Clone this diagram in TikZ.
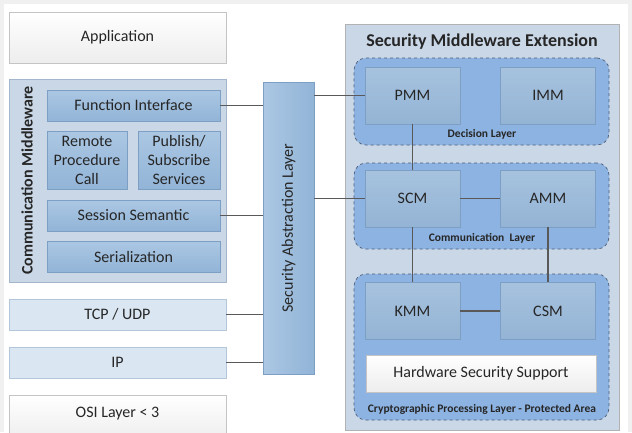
\documentclass[tikz,border=0pt]{standalone}
\usepackage{fontspec}
\setmainfont{Carlito}
\usepackage{tikz}
\usetikzlibrary{positioning}

\definecolor{txtgray}{HTML}{262626}
\definecolor{linegray}{HTML}{595959}
\definecolor{paleblue}{HTML}{C9D7E7}
\definecolor{paleedge}{HTML}{A3B6CC}
\definecolor{midtop}{HTML}{ABC7E3}
\definecolor{midbot}{HTML}{92B4D7}
\definecolor{midedge}{HTML}{7E9FC4}
\definecolor{layerblue}{HTML}{8DB3E2}
\definecolor{layeredge}{HTML}{4F6077}
\definecolor{modtop}{HTML}{A6C2DE}
\definecolor{modbot}{HTML}{94B4D5}
\definecolor{lightrow}{HTML}{DAE6F2}
\definecolor{lightedge}{HTML}{B4C6DA}
\definecolor{whiteedge}{HTML}{C4C4C4}

\begin{document}
\begin{tikzpicture}[x=1pt,y=-1pt,
font=\fontsize{16}{19}\selectfont, text=txtgray,
whitebox/.style={rectangle, draw=whiteedge, top color=white, bottom color=black!7, line width=0.8pt, inner sep=0pt},
rowbox/.style={rectangle, draw=lightedge, fill=lightrow, line width=0.8pt, inner sep=0pt, minimum width=217pt, minimum height=31pt},
groupbox/.style={rectangle, draw=paleedge, fill=paleblue, line width=0.8pt, inner sep=0pt},
innerbox/.style={rectangle, draw=midedge, top color=midtop, bottom color=midbot, line width=0.6pt, inner sep=0pt, align=center},
layerbox/.style={rectangle, rounded corners=12pt, draw=layeredge, dashed, fill=layerblue, line width=0.7pt, inner sep=0pt, minimum width=255pt},
modulebox/.style={rectangle, draw=midedge, top color=modtop, bottom color=modbot, line width=0.6pt, inner sep=0pt, minimum width=95pt, minimum height=57pt},
layerlabel/.style={font=\fontsize{11.5}{13}\selectfont\bfseries},
wire/.style={draw=linegray, line width=1.1pt},
]
\useasboundingbox (0,0) rectangle (632,432);
\fill[black!6] (0,0) rectangle (632,432);
\fill[white] (4,4) rectangle (628,432);

%Nodes
\node[whitebox, minimum width=217pt, minimum height=51pt] (app) at (117.5,37.5) {Application};

\node[groupbox, minimum width=217pt, minimum height=203pt] (cm) at (117.5,180.5) {};
\node[rotate=90, font=\fontsize{16}{19}\selectfont\bfseries] (cmlabel) at (27,180.5) {Communication Middleware};
\node[innerbox, minimum width=173pt, minimum height=31pt] (fi) at (133.5,105.5) {Function Interface};
\node[innerbox, minimum width=80pt, minimum height=58pt] (rpc) at (87,160) {Remote\\Procedure\\Call};
\node[innerbox, minimum width=82pt, minimum height=58pt] (pss) at (179,160) {Publish/\\Subscribe\\Services};
\node[innerbox, minimum width=173pt, minimum height=31pt] (ss) at (133.5,215.5) {Session Semantic};
\node[innerbox, minimum width=173pt, minimum height=31pt] (ser) at (133.5,256.5) {Serialization};

\node[rowbox] (tcp) at (117.5,314.5) {TCP / UDP};
\node[rowbox] (ip) at (117.5,362.5) {IP};
\node[whitebox, minimum width=217pt, minimum height=46pt] (osi) at (117.5,418) {};
\node (osilabel) at (117.5,414) {OSI Layer < 3};

\node[rectangle, draw=midedge, left color=midtop, right color=midbot, line width=0.8pt, minimum width=51pt, minimum height=292pt] (sal) at (288.5,228) {};
\node[rotate=90] (sallabel) at (sal.center) {Security Abstraction Layer};

\node[groupbox, draw=black!30, minimum width=274pt, minimum height=406pt] (sme) at (482,227) {};
\node[font=\fontsize{18}{21}\selectfont\bfseries] (smelabel) at (482,42) {Security Middleware Extension};

\node[layerbox, minimum height=87pt] (dec) at (481.5,101.5) {};
\node[layerbox, minimum height=86pt] (com) at (481.5,206) {};
\node[layerbox, minimum height=146pt] (cry) at (481.5,347) {};

\node[modulebox] (pmm) at (412.5,95.5) {PMM};
\node[modulebox] (imm) at (548,95.5) {IMM};
\node[modulebox] (scm) at (412.5,198.5) {SCM};
\node[modulebox] (amm) at (548,198.5) {AMM};
\node[modulebox] (kmm) at (412.5,311) {KMM};
\node[modulebox] (csm) at (548,311) {CSM};
\node[whitebox, minimum width=230pt, minimum height=37pt] (hss) at (481,373.5) {Hardware Security Support};

\node[layerlabel] (declabel) at (482,134) {Decision Layer};
\node[layerlabel] (comlabel) at (482,238) {Communication\ \ Layer};
\node[layerlabel] (crylabel) at (482,409) {Cryptographic Processing Layer - Protected Area};

%Lines
\draw[wire] (fi.east) -- (sal.west |- fi.east);
\draw[wire] (ss.east) -- (sal.west |- ss.east);
\draw[wire] (tcp.east) -- (sal.west |- tcp.east);
\draw[wire] (ip.east) -- (sal.west |- ip.east);
\draw[wire] (sal.east |- pmm.west) -- (pmm.west);
\draw[wire] (sal.east |- scm.west) -- (scm.west);
\draw[wire] (pmm.south) -- (scm.north);
\draw[wire] (scm.east) -- (amm.west);
\draw[wire] (scm.south) -- (kmm.north);
\draw[wire] (amm.south) -- (csm.north);
\draw[wire] (kmm.east) -- (csm.west);
\end{tikzpicture}
\end{document}
